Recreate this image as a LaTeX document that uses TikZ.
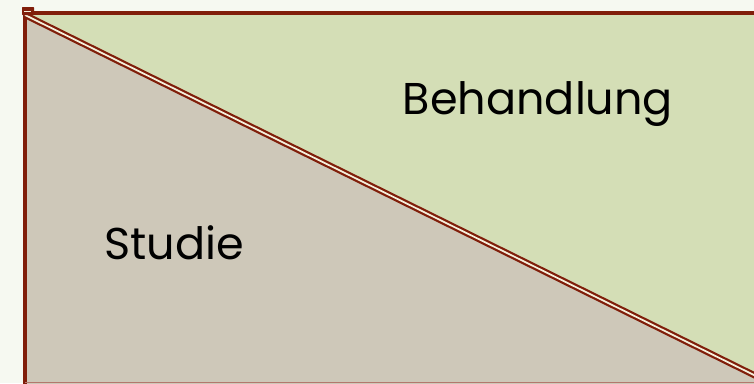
\documentclass[tikz,border=0pt]{standalone}
\usepackage{fontspec}
\setmainfont{Poppins}
\usetikzlibrary{positioning}
\definecolor{PaleBack}{RGB}{246,249,241}
\definecolor{SageGreen}{RGB}{212,222,182}
\definecolor{StoneGrey}{RGB}{206,200,185}
\definecolor{RustRed}{RGB}{128,30,10}
\definecolor{Cream}{RGB}{245,240,220}
\tikzset{
  area/.style={draw=RustRed, line width=2.8pt},
  split/.style={draw=RustRed, double=Cream, double distance=1.5pt, line width=1.9pt},
  label/.style={font=\fontsize{38}{44}\selectfont, text=black, inner sep=0pt}
}
\begin{document}
\begin{tikzpicture}[x=0.03cm, y=-0.03cm]
  \fill[PaleBack] (0,0) rectangle (754,383);
  \useasboundingbox (0,0) rectangle (754,383);
  % the two parts
  \fill[SageGreen] (25,13) -- (760,13) -- (760,378) -- cycle;
  \fill[StoneGrey] (25,13) -- (760,378) -- (760,390) -- (25,390) -- cycle;
  \draw[area] (760,13) -- (25,13) -- (25,390);
  \draw[RustRed!60, line width=0.8pt] (25,382) -- (760,382);
  \draw[split] (25,15) -- (760,378);
  \fill[RustRed, rounded corners=0.5pt] (22,7) rectangle (34,15);
  \draw[Cream, line width=0.5pt] (24,11) -- (31,11);
  % texts
  \node[label] (behandlung) at (538,104) {Behandlung};
  \node[label] (studie) at (174,243) {Studie};
\end{tikzpicture}
\end{document}
